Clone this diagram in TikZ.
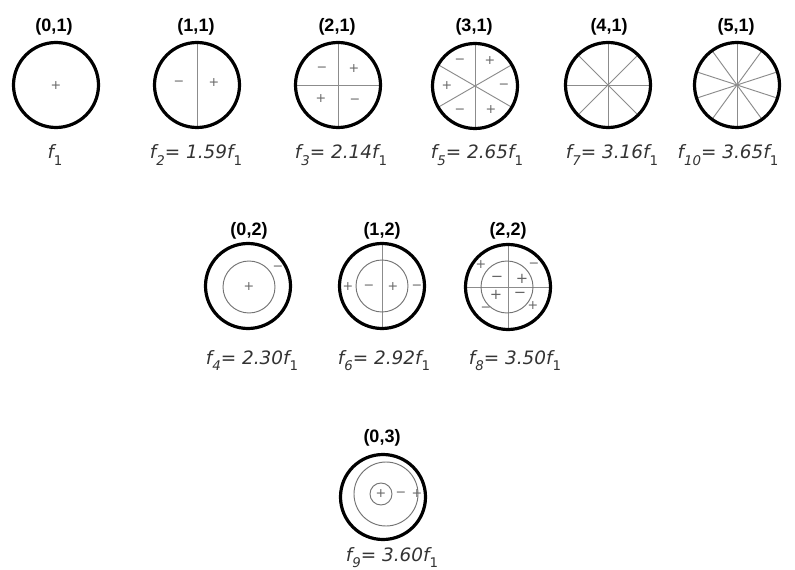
\documentclass[tikz,border=0pt]{standalone}
\usepackage{fontspec}
\setmainfont{Liberation Sans}
\newfontfamily\freqfont{DejaVu Sans}
\newfontfamily\signfont{DejaVu Sans}
\usetikzlibrary{backgrounds}
\newcommand\fsub[1]{\raisebox{-0.33em}{\fontsize{10}{10}\selectfont #1}}
\begin{document}
\begin{tikzpicture}[x=0.75pt,y=-0.75pt,
  rim/.style={circle,draw=black,line width=2.4pt,inner sep=0pt,outer sep=0pt,minimum size=63.75pt},
  ring/.style={circle,draw=black!55,line width=0.7pt,inner sep=0pt,outer sep=0pt},
  sect/.style={draw=black!45,line width=0.7pt},
  sgn/.style={font=\signfont\fontsize{9.5}{10}\selectfont,text=black!60,inner sep=0pt},
  bigsgn/.style={sgn,font=\signfont\fontsize{11}{12}\selectfont},
  mode/.style={font=\bfseries\fontsize{13.5}{15}\selectfont,anchor=base,inner sep=0pt},
  freq/.style={font=\freqfont\itshape\fontsize{13.8}{15}\selectfont,text=black!80,anchor=base,inner sep=0pt}]
\useasboundingbox (0,0) rectangle (795,570);
\begin{scope}[on background layer]
  \fill[white] (0,0) rectangle (795,570);
\end{scope}

% ---------- top row ----------
\node[rim] (c01) at (56,85) {};
\node[rim] (c11) at (197,85) {};
\node[rim] (c21) at (338,85) {};
\node[rim] (c31) at (475,86) {};
\node[rim] (c41) at (608,85) {};
\node[rim] (c51) at (737,85) {};

\node[mode] (m01) at (54,32) {(0,1)};
\node[mode] (m11) at (196,32) {(1,1)};
\node[mode] (m21) at (337,32) {(2,1)};
\node[mode] (m31) at (474,32) {(3,1)};
\node[mode] (m41) at (609,32) {(4,1)};
\node[mode] (m51) at (736,32) {(5,1)};

\node[freq] (f01) at (55,159) {f\fsub{\upshape 1}};
\node[freq] (f11) at (196,159) {f\fsub{2}= 1.59f\fsub{\upshape 1}};
\node[freq] (f21) at (341,159) {f\fsub{3}= 2.14f\fsub{\upshape 1}};
\node[freq] (f31) at (477,159) {f\fsub{5}= 2.65f\fsub{\upshape 1}};
\node[freq] (f41) at (612,159) {f\fsub{7}= 3.16f\fsub{\upshape 1}};
\node[freq] (f51) at (728,159) {f\fsub{10}= 3.65f\fsub{\upshape 1}};

\begin{scope}[on background layer]
  \draw[sect] (c11.90) -- (c11.270);
  \draw[sect] (c21.90) -- (c21.270);
  \draw[sect] (c21.0) -- (c21.180);
  \draw[sect] (c31.90) -- (c31.270);
  \draw[sect] (c31.30) -- (c31.210);
  \draw[sect] (c31.150) -- (c31.330);
  \foreach \a in {0,45,90,135} \draw[sect] (c41.\a) -- (c41.180+\a);
  \foreach \a in {18,54,90,126,162} \draw[sect] (c51.\a) -- (c51.180+\a);
\end{scope}

\node[sgn] (s01) at (56,86) {+};
\node[sgn] (s11a) at (179,83) {−};
\node[sgn] (s11b) at (214,83) {+};
\node[sgn] (s21a) at (322,69) {−};
\node[sgn] (s21b) at (354,69) {+};
\node[sgn] (s21c) at (321,99) {+};
\node[sgn] (s21d) at (355,101) {−};
\node[sgn] (s31a) at (460,61) {−};
\node[sgn] (s31b) at (490,61) {+};
\node[sgn] (s31c) at (447,86) {+};
\node[sgn] (s31d) at (504,86) {−};
\node[sgn] (s31e) at (460,111) {−};
\node[sgn] (s31f) at (491,110) {+};

% ---------- middle row ----------
\node[rim] (c02) at (248,286) {};
\node[rim] (c12) at (382,286) {};
\node[rim] (c22) at (508,287) {};

\node[mode] (m02) at (249,235) {(0,2)};
\node[mode] (m12) at (382,235) {(1,2)};
\node[mode] (m22) at (508,235) {(2,2)};

\node[freq] (f02) at (252,364) {f\fsub{4}= 2.30f\fsub{\upshape 1}};
\node[freq] (f12) at (384,364) {f\fsub{6}= 2.92f\fsub{\upshape 1}};
\node[freq] (f22) at (515,364) {f\fsub{8}= 3.50f\fsub{\upshape 1}};

\node[ring,minimum size=39pt] (r02) at (249,287) {};
\node[ring,minimum size=39pt] (r12) at (382,286) {};
\node[ring,minimum size=39pt] (r22) at (507,287) {};

\begin{scope}[on background layer]
  \draw[sect] (c12.90) -- (c12.270);
  \draw[sect] (c22.90) -- (c22.270);
  \draw[sect] (c22.0) -- (c22.180);
\end{scope}

\node[sgn] (s02a) at (249,287) {+};
\node[sgn] (s02b) at (278,268) {−};
\node[sgn] (s12a) at (348,287) {+};
\node[sgn] (s12b) at (369,287) {−};
\node[sgn] (s12c) at (393,287) {+};
\node[sgn] (s12d) at (417,287) {−};
\node[sgn] (s22a) at (481,265) {+};
\node[sgn] (s22b) at (534,265) {−};
\node[bigsgn] (s22c) at (497,279) {−};
\node[bigsgn] (s22d) at (522,279) {+};
\node[bigsgn] (s22e) at (496,295) {+};
\node[bigsgn] (s22f) at (520,295) {−};
\node[sgn] (s22g) at (486,309) {−};
\node[sgn] (s22h) at (533,306) {+};

% ---------- bottom ----------
\node[rim] (c03) at (383,497) {};
\node[mode] (m03) at (382,442) {(0,3)};
\node[freq] (f03) at (392,561) {f\fsub{9}= 3.60f\fsub{\upshape 1}};
\node[ring,minimum size=48pt] (r03a) at (386,494) {};
\node[ring,minimum size=16.5pt] (r03b) at (381,494) {};
\node[sgn] (s03a) at (381,494) {+};
\node[sgn] (s03b) at (401,494) {−};
\node[sgn] (s03c) at (417,494) {+};
\end{tikzpicture}
\end{document}
